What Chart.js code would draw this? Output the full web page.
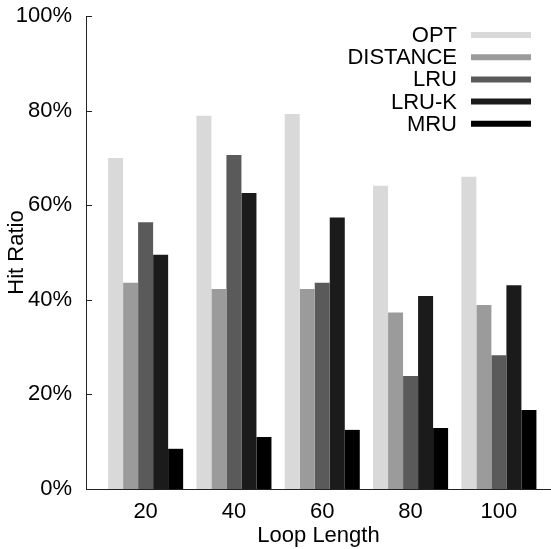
<!DOCTYPE html>
<html>
<head>
<meta charset="utf-8">
<script src="https://cdn.jsdelivr.net/npm/chart.js@4"></script>
<style>
  body { margin: 0; background: #fff; }
</style>
</head>
<body>
<canvas id="hitChart" width="551" height="549"></canvas>
<script>
const loopLengths = [20, 40, 60, 80, 100];
const policies = ["OPT", "DISTANCE", "LRU", "LRU-K", "MRU"];
const optHits = [70.0, 78.9, 79.3, 64.1, 66.0];
const distanceHits = [43.6, 42.3, 42.3, 37.3, 38.9];
const lruHits = [56.4, 70.6, 43.6, 23.9, 28.3];
const lrukHits = [49.5, 62.6, 57.4, 40.8, 43.1];
const mruHits = [8.5, 11.0, 12.5, 12.9, 16.7];
const yTicks = [0, 20, 40, 60, 80, 100];

const seriesValues = [optHits, distanceHits, lruHits, lrukHits, mruHits];
const colors = ["#d9d9d9", "#9b9b9b", "#5a5a5a", "#1b1b1b", "#000000"];
const font = { family: "'Liberation Sans', Arial, sans-serif", size: 22 };

// gnuplot style: ticks pointing into the plot + legend at top right
const gnuplotBits = {
  id: "gnuplotBits",
  afterDatasetsDraw(chart) {
    const ctx = chart.ctx;
    const y = chart.scales.y;
    const left = chart.chartArea.left;
    ctx.save();
    ctx.strokeStyle = "#222";
    ctx.lineWidth = 1;
    yTicks.forEach((v) => {
      const py = Math.round(y.getPixelForValue(v)) + 0.5;
      ctx.beginPath();
      ctx.moveTo(left, py);
      ctx.lineTo(left + 6, py);
      ctx.stroke();
    });

    ctx.font = font.size + "px " + font.family;
    ctx.textAlign = "right";
    ctx.textBaseline = "middle";
    chart.data.datasets.forEach((ds, i) => {
      const ly = 35 + i * 22.2;
      ctx.fillStyle = "#000";
      ctx.fillText(ds.label, 457, ly + 1);
      ctx.strokeStyle = ds.backgroundColor;
      ctx.lineWidth = 6;
      ctx.beginPath();
      ctx.moveTo(471, ly);
      ctx.lineTo(531, ly);
      ctx.stroke();
    });
    ctx.restore();
  },
};

new Chart(document.getElementById("hitChart"), {
  type: "bar",
  data: {
    datasets: policies.map((name, i) => ({
      label: name,
      data: loopLengths.map((len, j) => ({ x: len, y: seriesValues[i][j] })),
      backgroundColor: colors[i],
      borderWidth: 0,
      categoryPercentage: 0.85,
      barPercentage: 1.0,
    })),
  },
  options: {
    responsive: false,
    animation: false,
    layout: { padding: { top: 16, right: 0, left: 0, bottom: 0 } },
    plugins: {
      legend: { display: false },
      tooltip: { enabled: false },
    },
    scales: {
      x: {
        type: "linear",
        offset: false,
        min: 6.5,
        max: 111.8,
        afterBuildTicks: (scale) => {
          scale.ticks = loopLengths.map((v) => ({ value: v }));
        },
        afterFit: (scale) => {
          scale.height = 60;
          scale.paddingLeft = 0;
          scale.paddingRight = 0;
        },
        grid: { display: false, drawTicks: false },
        border: { display: true, color: "#222", width: 1 },
        ticks: { color: "#000", font: font, padding: 10, autoSkip: false, maxRotation: 0 },
        title: {
          display: true,
          text: "Loop Length",
          color: "#000",
          font: font,
          padding: { top: 0, bottom: 0 },
        },
      },
      y: {
        min: 0,
        max: 100,
        afterBuildTicks: (scale) => {
          scale.ticks = yTicks.map((v) => ({ value: v }));
        },
        afterFit: (scale) => {
          scale.width = 86;
          scale.paddingTop = 0;
          scale.paddingBottom = 0;
        },
        grid: { display: false, drawTicks: false },
        border: { display: true, color: "#222", width: 1 },
        ticks: {
          color: "#000",
          font: font,
          padding: 14,
          callback: (v) => v + "%",
        },
        title: {
          display: true,
          text: "Hit Ratio",
          color: "#000",
          font: font,
          padding: { top: 4, bottom: 0 },
        },
      },
    },
  },
  plugins: [gnuplotBits],
});
</script>
</body>
</html>
